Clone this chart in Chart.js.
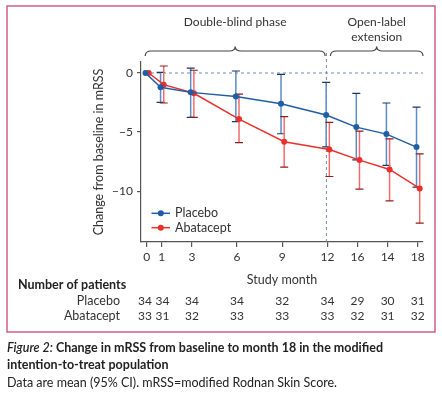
<!DOCTYPE html>
<html><head><meta charset="utf-8">
<script src="https://cdn.jsdelivr.net/npm/chart.js@4"></script>
<style>
html,body{margin:0;padding:0;background:#fff;}
#wrap{position:relative;width:442px;height:399px;overflow:hidden;}
canvas{position:absolute;left:0;top:0;}
.cap{position:absolute;left:7px;font-family:Lato,sans-serif;color:#222;font-size:12.5px;line-height:16px;white-space:nowrap;}
</style></head><body>
<div id="wrap">
<canvas id="c" width="442" height="399" style="width:442px;height:399px"></canvas>
<div class="cap" style="top:340px;font-weight:bold;"><i style="font-weight:600">Figure 2:</i> Change in mRSS from baseline to month 18 in the modified</div>
<div class="cap" style="top:357px;font-weight:bold;">intention-to-treat population</div>
<div class="cap" style="top:375px;">Data are mean (95% CI). mRSS=modified Rodnan Skin Score.</div>
</div>
<script>
const months = [0, 1, 3, 6, 9, 12, 14, 16, 18];
const tickLabels = ['0', '1', '3', '6', '9', '12', '16', '14', '18'];
const yTickValues = [0, -5, -10];
const seriesNames = ['Placebo', 'Abatacept'];
const placeboMean = [0, -1.21, -1.64, -1.98, -2.60, -3.56, -4.58, -5.17, -6.27];
const placeboHigh = [null, 0.06, 0.42, 0.17, -0.11, -0.79, -1.72, -2.54, -2.88];
const placeboLow  = [null, -2.48, -3.75, -4.12, -5.14, -6.25, -7.35, -7.82, -9.66];
const abataceptMean = [0, -0.99, -1.72, -3.90, -5.82, -6.47, -7.37, -8.16, -9.77];
const abataceptHigh = [null, 0.59, 0.23, -1.78, -3.70, -4.18, -4.92, -5.57, -6.84];
const abataceptLow  = [null, -2.54, -3.75, -5.90, -7.97, -8.76, -9.83, -10.82, -12.71];
const placeboN   = [34, 34, 34, 34, 32, 34, 29, 30, 31];
const abataceptN = [33, 31, 32, 33, 33, 33, 32, 31, 32];
const tableTitle = 'Number of patients';
const phaseLabels = [['Double-blind phase'], ['Open-label', 'extension']];
const phaseMonths = [[-0.1, 11.85], [12.2, 18.35]];

const FONT = 'Lato, sans-serif';
const TXT = '#333';
const blue = {line:'#1f5ea6', err:'#5a8cc8', cap:'#1d3760'};
const red  = {line:'#e8312c', err:'#f06c6c', cap:'#8e1f1f'};
const dodge = [-0.08, 0.13];

function mk(mean, i){ return months.map((m,k)=>({x:m+dodge[i], y:mean[k]})); }

const errorSets = [
  {low:placeboLow, high:placeboHigh, c:blue},
  {low:abataceptLow, high:abataceptHigh, c:red}
];

const decor = {
  id:'decor',
  beforeDatasetsDraw(chart){
    const {ctx, chartArea:a, scales:{x,y}} = chart;
    ctx.save();
    ctx.strokeStyle = '#cf5f86'; ctx.lineWidth = 1.5;
    ctx.strokeRect(7, 6, 428, 326);
    ctx.strokeStyle = '#6f8cab'; ctx.lineWidth = 1; ctx.setLineDash([3,3]);
    const y0 = y.getPixelForValue(0);
    ctx.beginPath(); ctx.moveTo(a.left+4, y0); ctx.lineTo(a.right, y0); ctx.stroke();
    const x12 = x.getPixelForValue(12) - 1;
    ctx.beginPath(); ctx.moveTo(x12, a.bottom); ctx.lineTo(x12, 53); ctx.stroke();
    ctx.setLineDash([]);
    errorSets.forEach((s, si)=>{
      months.forEach((m,k)=>{
        if (s.low[k]===null) return;
        const px = x.getPixelForValue(m+dodge[si]);
        const pl = y.getPixelForValue(s.low[k]);
        const ph = y.getPixelForValue(s.high[k]);
        ctx.strokeStyle = s.c.err; ctx.lineWidth = 1.5;
        ctx.beginPath(); ctx.moveTo(px, pl); ctx.lineTo(px, ph); ctx.stroke();
        ctx.strokeStyle = s.c.cap; ctx.lineWidth = 1.2;
        ctx.beginPath();
        ctx.moveTo(px-4, pl); ctx.lineTo(px+4, pl);
        ctx.moveTo(px-4, ph); ctx.lineTo(px+4, ph);
        ctx.stroke();
      });
    });
    ctx.restore();
  },
  afterDraw(chart){
    const {ctx, chartArea:a, scales:{x,y}} = chart;
    ctx.save();
    ctx.strokeStyle = '#444'; ctx.lineWidth = 1.2;
    const endY = 56, lineY = 51, peakY = 46.5;
    phaseMonths.forEach((pm, i)=>{
      const x0 = x.getPixelForValue(pm[0]), x1 = x.getPixelForValue(pm[1]);
      const mid = (x0+x1)/2;
      ctx.beginPath();
      ctx.moveTo(x0, endY);
      ctx.quadraticCurveTo(x0, lineY, x0+6, lineY);
      ctx.lineTo(mid-6, lineY);
      ctx.quadraticCurveTo(mid, lineY, mid, peakY);
      ctx.quadraticCurveTo(mid, lineY, mid+6, lineY);
      ctx.lineTo(x1-6, lineY);
      ctx.quadraticCurveTo(x1, lineY, x1, endY);
      ctx.stroke();
      ctx.fillStyle = TXT; ctx.font = '12px ' + FONT;
      ctx.textAlign = 'center'; ctx.textBaseline = 'middle';
      const lines = phaseLabels[i];
      const startY = lines.length === 1 ? 22.5 : 22;
      lines.forEach((t, j)=> ctx.fillText(t, mid, startY + j*15));
    });
    const legY = [213.3, 227.7];
    [blue, red].forEach((c, i)=>{
      ctx.strokeStyle = c.line; ctx.lineWidth = 1.5;
      ctx.beginPath(); ctx.moveTo(151.5, legY[i]); ctx.lineTo(170, legY[i]); ctx.stroke();
      ctx.fillStyle = c.line;
      ctx.beginPath(); ctx.arc(160.8, legY[i], 3, 0, Math.PI*2); ctx.fill();
      ctx.fillStyle = TXT; ctx.font = '12.5px ' + FONT;
      ctx.textAlign = 'left'; ctx.textBaseline = 'middle';
      ctx.fillText(seriesNames[i], 175, legY[i]);
    });
    ctx.fillStyle = '#222'; ctx.font = 'bold 12.5px ' + FONT;
    ctx.textAlign = 'left'; ctx.textBaseline = 'middle';
    ctx.fillText(tableTitle, 18, 285);
    const rows = [placeboN, abataceptN], rowY = [301, 315.7];
    rows.forEach((r, i)=>{
      ctx.font = '12.5px ' + FONT; ctx.fillStyle = TXT;
      ctx.textAlign = 'right';
      ctx.fillText(seriesNames[i], 120, rowY[i]);
      ctx.font = '12px ' + FONT;
      ctx.textAlign = 'center';
      r.forEach((n, k)=> {
        const nudge = k === 0 ? -1.8 : (k === 1 ? 0.6 : 0);
        ctx.fillText(String(n), x.getPixelForValue(months[k]) + nudge, rowY[i]);
      });
    });
    ctx.restore();
  }
};

new Chart(document.getElementById('c'), {
  type: 'line',
  data: {
    datasets: [
      {label: seriesNames[0], data: mk(placeboMean,0), borderColor: blue.line, backgroundColor: blue.line,
       borderWidth: 1.5, pointRadius: 3, pointBorderWidth: 0, tension: 0},
      {label: seriesNames[1], data: mk(abataceptMean,1), borderColor: red.line, backgroundColor: red.line,
       borderWidth: 1.5, pointRadius: 3, pointBorderWidth: 0, tension: 0}
    ]
  },
  options: {
    responsive: false, animation: false, devicePixelRatio: 1,
    layout: {padding: {left: 87, top: 62, right: 19, bottom: 112}},
    plugins: {legend: {display: false}, tooltip: {enabled: false}},
    scales: {
      x: {
        type: 'linear', min: -0.38, max: 18.35,
        afterBuildTicks: s => { s.ticks = months.map(v => ({value: v})); },
        afterFit: s => { s.height = 45; },
        ticks: {font: {family: FONT, size: 12}, color: TXT, padding: 3, maxRotation: 0, autoSkip: false,
          callback: v => tickLabels[months.indexOf(v)]},
        grid: {drawOnChartArea: false, drawTicks: true, tickLength: 5, color: '#555', lineWidth: 1.2},
        border: {display: true, color: '#555', width: 1.2},
        title: {display: true, text: 'Study month', font: {family: FONT, size: 12.5}, color: TXT, padding: {top: 4, bottom: 0}}
      },
      y: {
        type: 'linear', min: -14.3, max: 0.93,
        afterBuildTicks: s => { s.ticks = yTickValues.map(v => ({value: v})); },
        afterFit: s => { s.width = 54; },
        ticks: {font: {family: FONT, size: 12}, color: TXT, padding: 4,
          callback: v => v < 0 ? '\u2212' + Math.abs(v) : String(v)},
        grid: {drawOnChartArea: false, drawTicks: true, tickLength: 4, color: '#555', lineWidth: 1.2},
        border: {display: true, color: '#555', width: 1.2},
        title: {display: true, text: 'Change from baseline in mRSS', font: {family: FONT, size: 12.5}, color: TXT, padding: {top: 4, bottom: 0}}
      }
    }
  },
  plugins: [decor]
});
</script>
</body></html>
